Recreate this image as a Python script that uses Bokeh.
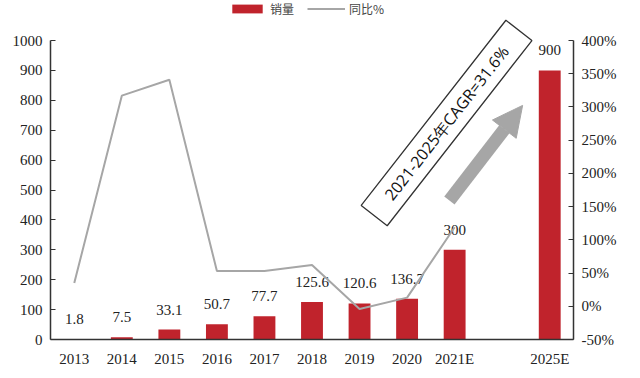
from bokeh.plotting import figure
from bokeh.models import (Range1d, LinearAxis, FixedTicker, PrintfTickFormatter,
                          ColumnDataSource, Legend, LegendItem, Arrow, NormalHead)
from bokeh.core.properties import value
from bokeh.embed import file_html
from bokeh.resources import INLINE

categories = ["2013", "2014", "2015", "2016", "2017", "2018", "2019", "2020", "2021E", "2025E"]
positions = [0, 1, 2, 3, 4, 5, 6, 7, 8, 10]
sales = [1.8, 7.5, 33.1, 50.7, 77.7, 125.6, 120.6, 136.7, 300, 900]
sales_labels = ["1.8", "7.5", "33.1", "50.7", "77.7", "125.6", "120.6", "136.7", "300", "900"]
growth = [35, 317, 341, 53, 53, 62, -4, 13, 119]
annotation_text = "2021-2025年CAGR=31.6%"
series_names = ["销量", "同比%"]

RED = "#C0232C"
GREY = "#A6A6A6"
SERIF = "Liberation Serif"

# frame reaches the top of the canvas; axes are bounded to their data span
TOP_FRAC = 339 / 299
p = figure(width=640, height=378, output_backend="svg", toolbar_location=None,
           x_range=Range1d(-0.5, 10.5), y_range=Range1d(0, 1000 * TOP_FRAC),
           min_border_left=50, min_border_right=67, min_border_top=0, min_border_bottom=39)
p.outline_line_color = None
p.grid.grid_line_color = None
p.background_fill_color = "white"
p.border_fill_color = "white"

src = ColumnDataSource(dict(x=positions, y=sales, lab=sales_labels))
bars = p.vbar(x="x", top="y", width=0.46, source=src, fill_color=RED, line_color=None)
p.text(x="x", y="y", text="lab", source=src, text_align="center", text_baseline="bottom",
       y_offset=-15, text_font=value(SERIF), text_font_size="15px", text_color="#222222")

p.extra_y_ranges = {"pct": Range1d(-50, -50 + 450 * TOP_FRAC)}
gsrc = ColumnDataSource(dict(x=positions[:len(growth)], y=growth))
ln = p.line(x="x", y="y", source=gsrc, y_range_name="pct", line_color=GREY, line_width=2)

la = p.yaxis[0]
la.ticker = FixedTicker(ticks=list(range(0, 1001, 100)))
la.bounds = (0, 1000)
ra = LinearAxis(y_range_name="pct", ticker=FixedTicker(ticks=list(range(-50, 401, 50))),
                formatter=PrintfTickFormatter(format="%d%%"), bounds=(-50, 400))
p.add_layout(ra, "right")
for ax in (la, ra):
    ax.major_tick_in = 5
    ax.major_tick_out = 0
    ax.minor_tick_line_color = None
    ax.axis_line_color = "#333333"
    ax.axis_line_width = 1.5
    ax.major_tick_line_color = "#333333"
    ax.major_tick_line_width = 1.2
    ax.major_label_text_font = SERIF
    ax.major_label_text_font_size = "15px"
    ax.major_label_text_color = "#222222"
    ax.major_label_standoff = 8

xa = p.xaxis[0]
xa.ticker = FixedTicker(ticks=positions)
xa.major_label_overrides = {pos: c for pos, c in zip(positions, categories)}
xa.major_tick_line_color = None
xa.minor_tick_line_color = None
xa.axis_line_color = "#333333"
xa.axis_line_width = 1.5
xa.major_label_text_font = SERIF
xa.major_label_text_font_size = "15px"
xa.major_label_text_color = "#222222"
xa.major_label_standoff = 5

p.rect(x=7.83, y=724, width=235, height=33, width_units="screen", height_units="screen",
       angle=52, angle_units="deg", fill_color="white", line_color="#333333", line_width=1.3)
p.text(x=7.83, y=724, text=[annotation_text], angle=52, angle_units="deg",
       text_align="center", text_baseline="middle", text_font=value("Open Sans"),
       text_font_size="16px", text_color="#111111")
p.add_layout(Arrow(x_start=7.89, y_start=465, x_end=9.43, y_end=783,
                   line_color=GREY, line_width=13,
                   end=NormalHead(size=30, fill_color=GREY, line_color=GREY)))

legend = Legend(items=[LegendItem(label=series_names[0], renderers=[bars]),
                       LegendItem(label=series_names[1], renderers=[ln])],
                orientation="horizontal", location=(178, 322),
                glyph_width=38, glyph_height=11, label_text_font="Noto Sans CJK SC",
                label_text_font_size="12px", label_text_color="#444444",
                label_height=11,
                border_line_color=None, background_fill_alpha=0,
                spacing=13, label_standoff=4, padding=0, margin=0)
p.add_layout(legend, "center")

open("out.html", "w").write(file_html(p, INLINE))
